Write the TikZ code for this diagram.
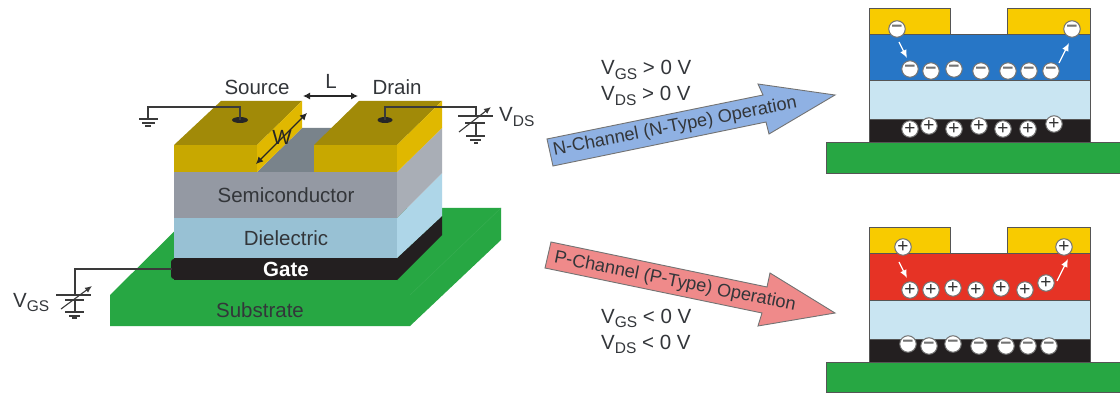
\documentclass[tikz,border=0pt]{standalone}
\usepackage{fontspec}
\setmainfont{Liberation Sans}
\usetikzlibrary{arrows.meta,shapes.geometric}
\definecolor{txt}{HTML}{33363A}
\definecolor{wire}{HTML}{3A3A3A}
\definecolor{goldtop}{HTML}{A18A08}
\definecolor{goldfront}{HTML}{C8A800}
\definecolor{goldside}{HTML}{E0B800}
\definecolor{semifront}{HTML}{9499A3}
\definecolor{semiside}{HTML}{A9AEB6}
\definecolor{chan}{HTML}{79838B}
\definecolor{difront}{HTML}{98C1D4}
\definecolor{diside}{HTML}{AED6E8}
\definecolor{gatecol}{HTML}{231F20}
\definecolor{subcol}{HTML}{27A743}
\definecolor{contact}{HTML}{F8CB00}
\definecolor{nblue}{HTML}{2776C6}
\definecolor{pred}{HTML}{E63325}
\definecolor{paleblue}{HTML}{C9E5F2}
\definecolor{arrblue}{HTML}{8FB1E3}
\definecolor{arrred}{HTML}{EF8A8A}
\definecolor{edgecol}{HTML}{555555}
\newcommand{\fs}[1]{\fontsize{#1}{#1}\selectfont}
\newcommand{\vsub}[2]{#1\raisebox{-0.22em}{\fs{15.5}#2}}
\tikzset{
  x=1pt,y=-1pt,
  lbl/.style={text=txt,font=\fs{20.5},inner sep=0pt},
  vlbl/.style={text=txt,font=\fs{20.5},inner sep=0pt,anchor=base west},
  arrtxt/.style={text=txt,font=\fs{18.2},inner sep=0pt},
  wireline/.style={draw=wire,line width=1.1pt},
  dimline/.style={draw=black!85,line width=1.1pt,{Latex[length=7pt,width=7pt]}-{Latex[length=7pt,width=7pt]}},
  tune/.style={draw=wire,line width=1.1pt,-{Latex[length=7pt,width=6pt]}},
  padnode/.style={ellipse,fill=black!85,minimum width=16pt,minimum height=6pt,inner sep=0pt},
  layerbox/.style={draw=edgecol,line width=0.9pt},
  bigarrow/.style={draw=black!55,line width=0.9pt},
  chg/.style={circle,draw=black!55,line width=1pt,fill=white,minimum size=16.5pt,inner sep=0pt,font=\fs{19}\bfseries},
  negchg/.style={chg,text=black!55},
  poschg/.style={chg,text=black!80,font=\fs{19}},
  flowline/.style={draw=white,line width=1.3pt,-{Latex[length=8pt,width=7pt]}}
}
\newcommand{\mn}{−}
\begin{document}
\begin{tikzpicture}
\useasboundingbox (0,0) rectangle (1120,393);
\fill[white] (0,0) rectangle (1120,393);
% substrate
\fill[subcol] (110,295) -- (198,208) -- (501,208) -- (501,240) -- (410,326) -- (110,326) -- cycle;
\draw[subcol!93!white,line width=0.5pt] (410,295) -- (501,208);
% stack
\fill[gatecol] (397,258) -- (442,216) -- (442,235) -- (397,280) -- cycle;
\fill[gatecol] (174,258) rectangle (397,280);
\fill[gatecol,rounded corners=3pt] (171,259) rectangle (182,279);
\fill[diside] (397,218) -- (442,173) -- (442,216) -- (397,258) -- cycle;
\fill[difront] (174,218) rectangle (397,258);
\fill[semiside] (397,172) -- (442,128) -- (442,173) -- (397,218) -- cycle;
\fill[semifront] (174,172) rectangle (397,218);
\fill[chan] (257,172) -- (302,128) -- (333,128) -- (314,146) -- (314,172) -- cycle;
\fill[goldtop] (174,145) -- (221,101) -- (302,101) -- (257,145) -- cycle;
\fill[goldfront] (174,145) rectangle (257,172);
\fill[goldside] (257,145) -- (302,101) -- (302,128) -- (257,172) -- cycle;
\fill[goldtop] (314,145) -- (359,101) -- (442,101) -- (397,145) -- cycle;
\fill[goldfront] (314,145) rectangle (397,172);
\fill[goldside] (397,145) -- (442,101) -- (442,128) -- (397,172) -- cycle;
% labels
\node[lbl] (source) at (257,87) {Source};
\node[lbl] (drain) at (397,87) {Drain};
\node[lbl] (lenL) at (331,81) {L};
\node[lbl] (semi) at (286,195) {Semiconductor};
\node[lbl] (diel) at (286,238) {Dielectric};
\node[lbl] (subs) at (260,310) {Substrate};
\node[font=\fs{20.5}\bfseries,text=white,inner sep=0pt] (gate) at (286,269) {Gate};
% L and W
\coordinate (La) at (303,96); \coordinate (Lb) at (358,96);
\draw[dimline] (La) -- (Lb);
\coordinate (Wa) at (256,164); \coordinate (Wb) at (307,113);
\draw[dimline] (Wa) -- (Wb);
\node[lbl,text=black!85] (widW) at (282,137) {W};
% source wire
\node[padnode] (spad) at (240,120) {};
\coordinate (sg) at (148,119);
\draw[wireline] (spad.center) -- (240,107) -- (148,107) -- (sg);
\draw[wireline] (139,119) -- (158,119) (142,123) -- (155,123) (145,126) -- (151,126);
% drain wire
\node[padnode,minimum width=15pt] (dpad) at (385,120) {};
\coordinate (dplate) at (476,116);
\draw[wireline] (dpad.center) -- (385,107) -- (476,107) -- (dplate);
\draw[wireline] (458,116) -- (493,116) (465,123) -- (485,123) (476,123) -- (476,136);
\draw[wireline] (466,136) -- (485,136) (470,140) -- (481,140) (474,143) -- (478,143);
\draw[tune] (459,132) -- (491,107);
\node[vlbl] (vds) at (499,122) {\vsub{V}{DS}};
% gate wire
\coordinate (gtap) at (172,269);
\coordinate (gplate) at (75,295);
\draw[wireline] (gtap) -- (75,269) -- (gplate);
\draw[wireline] (56,295) -- (91,295) (65,300) -- (84,300) (75,300) -- (75,312);
\draw[wireline] (65,312) -- (84,312) (69,316) -- (80,316) (72,318) -- (77,318);
\draw[tune] (61,309) -- (92,286);
\node[vlbl] (vgs) at (13,307) {\vsub{V}{GS}};
% condition labels
\node[vlbl] (c1) at (601,75) {\vsub{V}{GS} > 0 V};
\node[vlbl] (c2) at (601,101) {\vsub{V}{DS} > 0 V};
\node[vlbl] (c3) at (601,323) {\vsub{V}{GS} < 0 V};
\node[vlbl] (c4) at (601,349) {\vsub{V}{DS} < 0 V};
% big arrows
\draw[bigarrow,fill=arrblue] (547,139) -- (763,95) -- (758,84) -- (835,95) -- (769,134) -- (766,122) -- (553,166) -- cycle;
\node[arrtxt,rotate=11] (ntxt) at (675,127) {N-Channel (N-Type) Operation};
\draw[bigarrow,fill=arrred] (551,242) -- (767,287) -- (770,273) -- (835,313) -- (758,326) -- (762,313) -- (545,268) -- cycle;
\node[arrtxt,rotate=-11.3] (ptxt) at (675,282) {P-Channel (P-Type) Operation};
% n device
\fill[subcol,draw=edgecol,line width=0.9pt] (826,142) rectangle (1125,173);
\draw[layerbox,fill=gatecol] (869,119) rectangle (1090,142);
\draw[layerbox,fill=paleblue] (869,80) rectangle (1090,119);
\draw[layerbox,fill=nblue] (869,34) rectangle (1090,80);
\draw[layerbox,fill=contact] (869,34) -- (869,8) -- (950,8) -- (950,34) -- cycle;
\draw[layerbox,fill=contact] (1007,34) -- (1007,8) -- (1090,8) -- (1090,34) -- cycle;
\foreach \nm/\px/\py in {a/897/29,b/1072/29,c/910/69,d/931/71,e/954/69,f/981/71,g/1008/71,h/1029/71,i/1051/71}
  \node[negchg] (n\nm) at (\px,\py) {\mn};
\foreach \nm/\px/\py in {a/910/129,b/929/126,c/954/129,d/979/126,e/1003/129,f/1028/129,g/1054/124}
  \node[poschg] (np\nm) at (\px,\py) {+};
\draw[flowline] (899,42) -- (907,58);
\draw[flowline] (1059,63) -- (1069,43);
% p device
\fill[subcol,draw=edgecol,line width=0.9pt] (826,362) rectangle (1125,392);
\draw[layerbox,fill=gatecol] (869,339) rectangle (1090,362);
\draw[layerbox,fill=paleblue] (869,300) rectangle (1090,339);
\draw[layerbox,fill=pred] (869,253) rectangle (1090,300);
\draw[layerbox,fill=contact] (869,253) -- (869,227) -- (950,227) -- (950,253) -- cycle;
\draw[layerbox,fill=contact] (1007,253) -- (1007,227) -- (1090,227) -- (1090,253) -- cycle;
\foreach \nm/\px/\py in {a/903/247,b/1064/247,c/910/290,d/931/290,e/953/288,f/976/290,g/1001/288,h/1025/290,i/1046/283}
  \node[poschg] (p\nm) at (\px,\py) {+};
\foreach \nm/\px/\py in {a/908/344,b/929/346,c/953/344,d/979/346,e/1006/346,f/1028/346,g/1049/346}
  \node[negchg] (pn\nm) at (\px,\py) {\mn};
\draw[flowline] (899,262) -- (907,278);
\draw[flowline] (1057,281) -- (1068,259);
\end{tikzpicture}
\end{document}
